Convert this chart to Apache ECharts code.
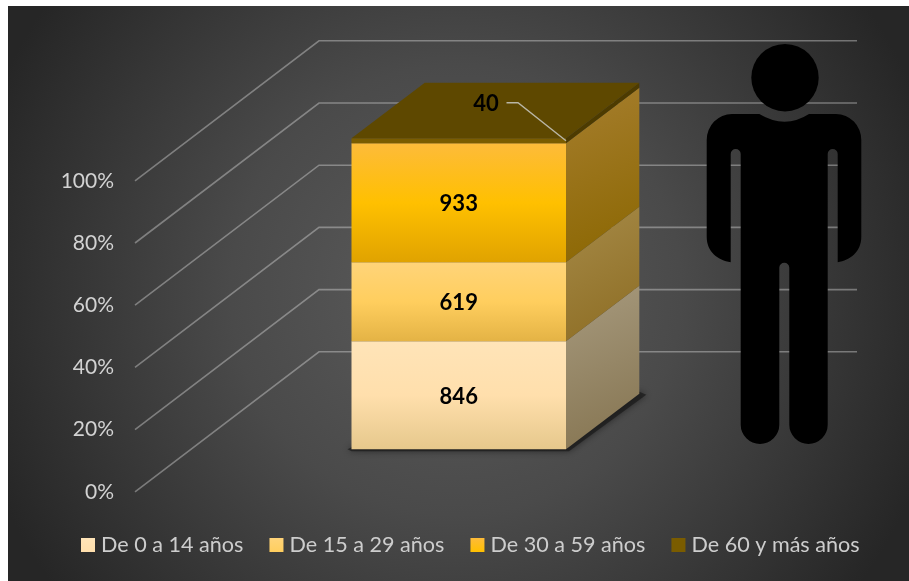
<!DOCTYPE html>
<html lang="es">
<head>
<meta charset="utf-8">
<title>Población por grupos de edad</title>
<style>
  html, body { margin: 0; padding: 0; background: #fff; }
  #chart { width: 909px; height: 581px; }
</style>
<script src="https://cdn.jsdelivr.net/npm/echarts@6/dist/echarts.min.js"></script>
</head>
<body>
<div id="chart"></div>
<script>
// Population by age group, shown as one 100% stacked column in oblique projection
const categoria = ['Población'];
const gruposEdad = ['De 0 a 14 años', 'De 15 a 29 años', 'De 30 a 59 años', 'De 60 y más años'];
const poblacion = [846, 619, 933, 40];
const marcasEje = [0, 20, 40, 60, 80, 100];

const total = poblacion.reduce((a, b) => a + b, 0);
const acumulado = poblacion.map((_, i) =>
  poblacion.slice(0, i).reduce((a, b) => a + b, 0) / total * 100);

// Oblique projection
const FONT = 'Lato, "Open Sans", sans-serif';
const GRID = { left: 135, top: 180.8, width: 722, height: 311 };
const WALL = { dx: 184, dy: -140 };
const COL = { cx: -37.25, half: 107.25, lift: -42.6, dx: 73.3, dy: -55.5 };

function vgrad(stops) {
  return new echarts.graphic.LinearGradient(0, 0, 0, 1,
    stops.map((c, i) => ({ offset: i / (stops.length - 1), color: c })));
}
function dgrad(a, b) {
  return new echarts.graphic.LinearGradient(0, 0, 1, 1, [
    { offset: 0, color: a }, { offset: 1, color: b }]);
}

const frentes = [
  ['#FFE4B8', '#FFDFAC', '#E6C88C'],
  ['#FFD479', '#FFCE5E', '#E4B345'],
  ['#FDBB3A', '#FFC000', '#E0A300'],
  ['#7A5C00', '#7A5C00']
];
const lados = [
  ['#A79A7E', '#84734F'],
  ['#A68A48', '#8C6C22'],
  ['#A67E2E', '#8A6600'],
  ['#4D3B00', '#4D3B00']
];

// Back walls: a slanted run from the axis, then a level run across the wall
function dibujarPared(params, api) {
  const y = api.coord([0, api.value(0)])[1];
  const x0 = GRID.left;
  return {
    type: 'polyline',
    silent: true,
    shape: { points: [[x0, y], [x0 + WALL.dx, y + WALL.dy], [x0 + GRID.width, y + WALL.dy]] },
    style: { fill: 'none', stroke: 'rgba(225,225,225,0.4)', lineWidth: 1.6 }
  };
}

// Floor shadow under the column
function dibujarSombra(params, api) {
  const c = api.coord([0, 0]);
  const xl = c[0] + COL.cx - COL.half, xr = c[0] + COL.cx + COL.half;
  const y = c[1] + COL.lift;
  return {
    type: 'polygon',
    silent: true,
    shape: { points: [[xl - 4, y], [xl, y - 2], [xr + COL.dx, y + COL.dy - 2],
      [xr + COL.dx + 7, y + COL.dy + 1], [xr + 3, y + 2], [xl, y + 2]] },
    style: { fill: 'rgba(25,25,25,0.7)', shadowBlur: 7, shadowColor: 'rgba(0,0,0,0.65)' }
  };
}

// One stacked segment: front and side faces, plus the lid on the top segment
function dibujarTramo(i) {
  return function (params, api) {
    const base = api.coord([0, acumulado[i]]);
    const tope = api.coord([0, acumulado[i] + api.value(0) / total * 100]);
    const xl = base[0] + COL.cx - COL.half, xr = base[0] + COL.cx + COL.half;
    const yb = base[1] + COL.lift, yt = tope[1] + COL.lift;
    const hijos = [
      {
        type: 'polygon',
        shape: { points: [[xr, yb], [xr + COL.dx, yb + COL.dy], [xr + COL.dx, yt + COL.dy], [xr, yt]] },
        style: { fill: dgrad(lados[i][0], lados[i][1]) }
      },
      {
        type: 'rect',
        shape: { x: xl, y: yt, width: xr - xl, height: yb - yt },
        style: { fill: vgrad(frentes[i]) }
      }
    ];
    const cy = (yb + yt) / 2;
    if (i === poblacion.length - 1) {
      hijos.push({
        type: 'polygon',
        shape: { points: [[xl, yt], [xr, yt], [xr + COL.dx, yt + COL.dy], [xl + COL.dx, yt + COL.dy]] },
        style: { fill: '#5E4800' }
      });
      hijos.push({
        type: 'polyline',
        shape: { points: [[xr, yt + 2.5], [xr - 48, cy - 38], [xr - 59.5, cy - 38]] },
        style: { fill: 'none', stroke: '#B9B6A6', lineWidth: 1.4 }
      });
      hijos.push({
        type: 'text',
        style: { x: xr - 80, y: cy - 37, text: String(api.value(0)), fill: '#000',
          font: 'bold 22px ' + FONT, align: 'center', verticalAlign: 'middle' }
      });
    } else {
      hijos.push({
        type: 'text',
        style: { x: (xl + xr) / 2, y: cy + 1.5, text: String(api.value(0)), fill: '#000',
          font: 'bold 22px ' + FONT, align: 'center', verticalAlign: 'middle' }
      });
    }
    return { type: 'group', silent: true, children: hijos };
  };
}

const seriesTramos = gruposEdad.map((nombre, i) => ({
  name: nombre,
  type: 'custom',
  coordinateSystem: 'cartesian2d',
  z: 4 + i,
  clip: false,
  encode: { y: 0 },
  itemStyle: { color: frentes[i][1] },
  renderItem: dibujarTramo(i),
  data: [[poblacion[i]]]
}));

// Standing figure to the right of the column
const figura = 'M759.3 114 Q785 129.4 809 114 L836 114 A25.3 26 0 0 1 861.3 140 L861.3 236.7 ' +
  'C861.3 252 850 260 837.7 262.3 L837.7 154 A5 5 0 0 0 827.7 154 L827.7 424.7 ' +
  'A19.2 19.3 0 0 1 789.3 424.7 L789.3 267.7 A5 5 0 0 0 779.3 267.7 L779.3 424.7 ' +
  'A19.3 19.3 0 0 1 740.7 424.7 L740.7 154 A5 5 0 0 0 730.7 154 L730.7 262.3 ' +
  'C718 260 706.7 252 706.7 236.7 L706.7 140 A25.3 26 0 0 1 732 114 Z';

function dibujarFigura() {
  return {
    type: 'group',
    silent: true,
    children: [
      { type: 'circle', shape: { cx: 785, cy: 77.7, r: 33.7 }, style: { fill: '#000' } },
      { type: 'path', shape: { pathData: figura }, style: { fill: '#000' } }
    ]
  };
}

const chart = echarts.init(document.getElementById('chart'), null, { renderer: 'canvas' });
chart.setOption({
  animation: false,
  backgroundColor: '#fff',
  textStyle: { fontFamily: FONT },
  graphic: [
    {
      type: 'rect', z: -10, silent: true,
      shape: { x: 8, y: 6, width: 901, height: 575 },
      style: {
        fill: new echarts.graphic.RadialGradient(456, 290, 500, [
          { offset: 0, color: '#5C5C5C' },
          { offset: 0.45, color: '#4A4A4A' },
          { offset: 1, color: '#262626' }
        ], true)
      }
    }
  ],
  legend: {
    left: 81,
    top: 534,
    padding: 0,
    itemWidth: 14,
    itemHeight: 14,
    itemGap: 26,
    icon: 'rect',
    textStyle: { color: '#CDCDCD', fontSize: 21.6, fontFamily: FONT, padding: [0, 0, 0, 1] },
    data: gruposEdad.map((nombre, i) => ({
      name: nombre,
      itemStyle: { color: vgrad(i === 3 ? frentes[i] : [frentes[i][0], frentes[i][1]]) }
    }))
  },
  grid: { left: GRID.left, top: GRID.top, width: GRID.width, height: GRID.height },
  xAxis: {
    type: 'category',
    data: categoria,
    axisLine: { show: false },
    axisTick: { show: false },
    axisLabel: { show: false }
  },
  yAxis: {
    type: 'value',
    min: 0,
    max: 100,
    interval: 20,
    axisLine: { show: false },
    axisTick: { show: false },
    splitLine: { show: false },
    axisLabel: { formatter: '{value}%', color: '#D2D2D2', fontSize: 21, fontFamily: FONT, margin: 21 }
  },
  series: [
    {
      name: 'paredes', type: 'custom', z: 1, clip: false, silent: true,
      encode: { y: 0 }, renderItem: dibujarPared, data: marcasEje.map(v => [v])
    },
    {
      name: 'sombra', type: 'custom', z: 2, clip: false, silent: true,
      encode: { y: 0 }, renderItem: dibujarSombra, data: [[0]]
    },
    {
      name: 'figura', type: 'custom', z: 3, clip: false, silent: true,
      encode: { y: 0 }, renderItem: dibujarFigura, data: [[0]]
    }
  ].concat(seriesTramos)
});
</script>
</body>
</html>
